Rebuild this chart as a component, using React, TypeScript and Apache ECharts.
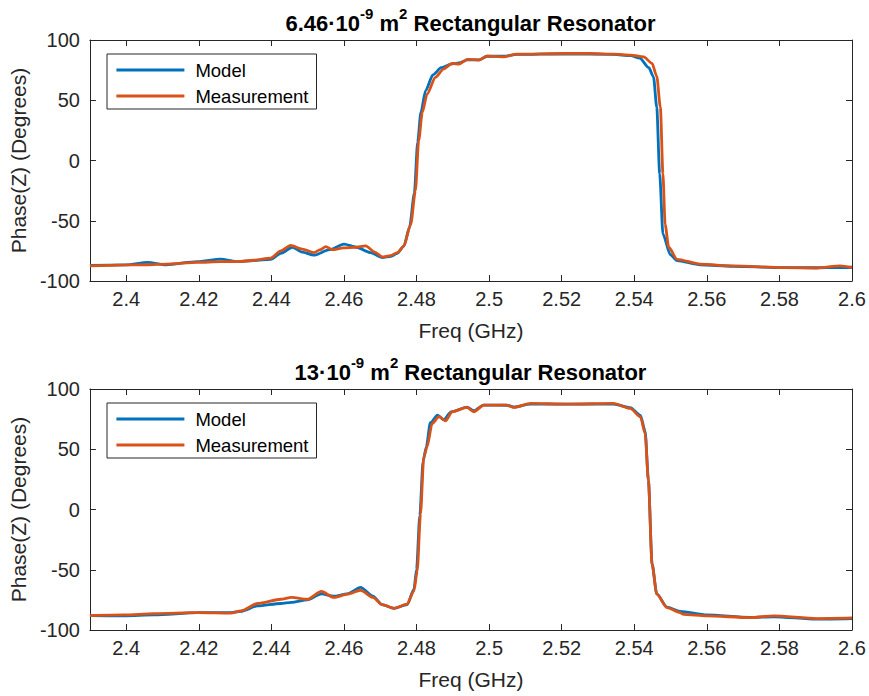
import React, { useEffect, useRef } from "react";
import * as echarts from "echarts";

// ---------- data ----------
const xTicks = [2.4, 2.42, 2.44, 2.46, 2.48, 2.5, 2.52, 2.54, 2.56, 2.58, 2.6];
const seriesNames = ["Model", "Measurement"];
const titles = [
  ["6.46·10", "-9", " m", "2", " Rectangular Resonator"],
  ["13·10", "-9", " m", "2", " Rectangular Resonator"],
];

const topModelFreq = [2.39, 2.4, 2.4059, 2.411, 2.4196, 2.426, 2.4306, 2.4351, 2.4398, 2.4426, 2.4458, 2.4485, 2.4517, 2.456, 2.46, 2.4635, 2.4673, 2.4706, 2.473, 2.4747, 2.4765, 2.4781, 2.4794, 2.4803, 2.4812, 2.4825, 2.4845, 2.4868, 2.4895, 2.4917, 2.494, 2.4972, 2.4994, 2.504, 2.5077, 2.5206, 2.5343, 2.539, 2.5415, 2.544, 2.5453, 2.5462, 2.547, 2.5479, 2.5499, 2.5518, 2.5582, 2.5673, 2.5811, 2.5903, 2.5967, 2.6];
const topModelPhase = [-87, -86.7, -84.5, -86.5, -84, -81.8, -84, -83, -82, -77, -72, -76, -78.6, -74, -69.4, -72, -76.4, -80.6, -79.5, -77, -71, -55, -27, 15, 40, 58, 71, 77, 80, 81, 83.5, 83.5, 86.5, 86.5, 88, 88.5, 88, 87, 85, 77, 69.4, 44, -11, -61, -78, -83, -86.5, -87.8, -88.9, -89, -88.9, -88.6];

const topMeasFreq = [2.39, 2.395, 2.4, 2.406, 2.411, 2.4196, 2.426, 2.4306, 2.4351, 2.4398, 2.4426, 2.4453, 2.4485, 2.4517, 2.4535, 2.455, 2.4568, 2.4599, 2.463, 2.466, 2.4685, 2.4706, 2.4728, 2.4747, 2.4765, 2.4784, 2.4797, 2.4806, 2.4816, 2.4829, 2.4852, 2.4875, 2.4898, 2.4917, 2.494, 2.4972, 2.4994, 2.504, 2.5077, 2.5206, 2.528, 2.5343, 2.539, 2.5426, 2.5449, 2.5462, 2.5472, 2.5479, 2.5485, 2.5495, 2.5518, 2.5582, 2.5673, 2.5811, 2.5903, 2.5967, 2.6];
const topMeasPhase = [-87.5, -87, -86.7, -86.5, -86, -84.5, -84, -84, -82.8, -81, -75, -70.5, -73.5, -76.4, -74, -71.4, -74, -72.5, -72, -70.8, -76, -80, -79, -76.4, -71, -53, -25, 16.7, 40, 55, 69, 76, 80.6, 80, 84, 83.3, 86.7, 86, 88.3, 88.8, 88.8, 88.3, 87.5, 86, 80.6, 70, 44, -11, -53, -72, -82, -86, -87.5, -88.9, -89.2, -87.5, -88.8];

const botModelFreq = [2.39, 2.3994, 2.4077, 2.4196, 2.4288, 2.4316, 2.4362, 2.4426, 2.4455, 2.4499, 2.4538, 2.4572, 2.4609, 2.4646, 2.468, 2.4705, 2.4738, 2.4774, 2.4793, 2.48, 2.4809, 2.4818, 2.4827, 2.4838, 2.4858, 2.4875, 2.4895, 2.4939, 2.4958, 2.4985, 2.5049, 2.5068, 2.5114, 2.5215, 2.5343, 2.5389, 2.5417, 2.543, 2.5439, 2.5449, 2.5462, 2.549, 2.5526, 2.56, 2.5719, 2.5784, 2.5903, 2.6];
const botModelPhase = [-88, -88.3, -87.5, -85.6, -85.5, -84.5, -80, -78, -77, -75, -70, -72, -70, -64.7, -72, -79, -82, -79, -66, -50, -5, 40, 52, 72, 78.3, 74.5, 81, 85, 82, 86.7, 86.5, 85, 87.5, 87.5, 87.5, 84.5, 78, 65, 24, -45, -70, -81, -84.5, -87.5, -89.5, -89, -91, -90.5];

const botMeasFreq = [2.39, 2.3994, 2.4077, 2.4196, 2.4288, 2.4316, 2.4362, 2.4426, 2.4455, 2.4499, 2.4538, 2.4572, 2.4609, 2.4646, 2.468, 2.4705, 2.4738, 2.4774, 2.4793, 2.4802, 2.4811, 2.482, 2.4829, 2.4843, 2.4862, 2.488, 2.4898, 2.4939, 2.4958, 2.4985, 2.5049, 2.5068, 2.5114, 2.5215, 2.5343, 2.5389, 2.5417, 2.543, 2.5439, 2.5449, 2.5462, 2.549, 2.5526, 2.5536, 2.56, 2.5719, 2.5784, 2.5903, 2.6];
const botMeasPhase = [-88, -87.5, -86.4, -85.6, -86, -84.2, -78, -74.5, -73, -74.5, -68, -73, -70.3, -67, -73, -79, -82, -78.6, -67.5, -50.8, -3.6, 43.6, 51.9, 71.4, 77, 73.6, 81.1, 84.7, 81.1, 86.7, 86.7, 84.7, 88, 87.5, 88, 83.9, 76.9, 63, 24, -45.3, -70.3, -81.4, -85.6, -87, -88.3, -89.7, -88.3, -90.5, -90];

// ---------- styling ----------
const FONT = "'Liberation Sans', Arial, Helvetica, sans-serif";
const AX = "#262626";
const BLUE = "#0072BD";
const ORANGE = "#D95319";
const LW = 2.8;

const zip = (xs: number[], ys: number[]) => xs.map((x, i) => [x, ys[i]]);

const fmtX = (v: number) => String(parseFloat(v.toFixed(2)));

export default function App() {
  const ref = useRef<HTMLDivElement>(null);

  useEffect(() => {
    if (!ref.current) return;
    const chart = echarts.init(ref.current, undefined, { renderer: "svg" });

    const gridTops = [40, 389];
    const gridH = 241;
    const gridLeft = 89;
    const gridW = 763;

    const xAxes: any[] = [];
    const yAxes: any[] = [];
    gridTops.forEach((_, g) => {
      xAxes.push({
        type: "value",
        gridIndex: g,
        position: "bottom",
        min: 2.39,
        max: 2.6,
        axisLine: { show: true, onZero: false, lineStyle: { color: AX, width: 1 } },
        axisTick: { show: true, inside: true, length: 6, customValues: xTicks, lineStyle: { color: AX } },
        axisLabel: {
          show: true,
          customValues: xTicks,
          formatter: (v: number) => fmtX(v),
          color: AX,
          fontSize: 20,
          fontFamily: FONT,
          margin: 8,
        },
        splitLine: { show: false },
        name: "Freq (GHz)",
        nameLocation: "middle",
        nameGap: 39,
        nameTextStyle: { color: AX, fontSize: 21, fontFamily: FONT },
      });
      xAxes.push({
        type: "value",
        gridIndex: g,
        position: "top",
        min: 2.39,
        max: 2.6,
        axisLine: { show: true, onZero: false, lineStyle: { color: AX, width: 1 } },
        axisTick: { show: true, inside: true, length: 6, customValues: xTicks, lineStyle: { color: AX } },
        axisLabel: { show: false },
        splitLine: { show: false },
      });
      yAxes.push({
        type: "value",
        gridIndex: g,
        position: "left",
        min: -100,
        max: 100,
        interval: 50,
        axisLine: { show: true, onZero: false, lineStyle: { color: AX, width: 1 } },
        axisTick: { show: true, inside: true, length: 6, lineStyle: { color: AX } },
        axisLabel: { color: AX, fontSize: 20, fontFamily: FONT, margin: 10 },
        splitLine: { show: false },
        name: "Phase(Z) (Degrees)",
        nameLocation: "middle",
        nameGap: 56,
        nameTextStyle: { color: AX, fontSize: 21, fontFamily: FONT },
      });
      yAxes.push({
        type: "value",
        gridIndex: g,
        position: "right",
        min: -100,
        max: 100,
        interval: 50,
        axisLine: { show: true, onZero: false, lineStyle: { color: AX, width: 1 } },
        axisTick: { show: true, inside: true, length: 6, lineStyle: { color: AX } },
        axisLabel: { show: false },
        splitLine: { show: false },
      });
    });

    const mkSeries = (name: string, color: string, data: number[][], g: number) => ({
      type: "line",
      name,
      data,
      xAxisIndex: g * 2,
      yAxisIndex: g * 2,
      showSymbol: false,
      symbol: "none",
      smooth: 0.25,
      smoothMonotone: "x",
      lineStyle: { color, width: LW },
      itemStyle: { color },
      z: name === "Model" ? 2 : 3,
    });

    const legendBase = (top: number) => ({
      left: 107,
      top,
      orient: "vertical",
      data: seriesNames,
      backgroundColor: "#ffffff",
      borderColor: AX,
      borderWidth: 1,
      borderRadius: 0,
      padding: [6, 8, 3, 8],
      itemWidth: 68,
      itemHeight: 20,
      itemGap: 6,
      selectedMode: false,
      itemStyle: { opacity: 0 },
      lineStyle: { width: LW },
      textStyle: { color: "#000000", fontSize: 18.5, fontFamily: FONT, lineHeight: 20, padding: [0, 0, 0, 6] },
    });

    const titleGraphic = (t: string[], y: number) => ({
      type: "text",
      x: gridLeft + gridW / 2,
      y,
      style: {
        text: `{a|${t[0]}}{s|${t[1]}}{a|${t[2]}}{s|${t[3]}}{a|${t[4]}}`,
        align: "center",
        verticalAlign: "top",
        rich: {
          a: { fontSize: 22, fontWeight: "bold", fontFamily: FONT, fill: "#000", lineHeight: 28, verticalAlign: "bottom" },
          s: { fontSize: 15, fontWeight: "bold", fontFamily: FONT, fill: "#000", lineHeight: 15, verticalAlign: "top" },
        },
      },
    });

    chart.setOption({
      animation: false,
      backgroundColor: "#ffffff",
      grid: gridTops.map((top) => ({ left: gridLeft, top, width: gridW, height: gridH, containLabel: false })),
      xAxis: xAxes,
      yAxis: yAxes,
      legend: [legendBase(54), legendBase(403)],
      series: [
        mkSeries("Model", BLUE, zip(topModelFreq, topModelPhase), 0),
        mkSeries("Measurement", ORANGE, zip(topMeasFreq, topMeasPhase), 0),
        mkSeries("Model", BLUE, zip(botModelFreq, botModelPhase), 1),
        mkSeries("Measurement", ORANGE, zip(botMeasFreq, botMeasPhase), 1),
      ],
      graphic: [titleGraphic(titles[0], 6), titleGraphic(titles[1], 355)],
    });

    return () => chart.dispose();
  }, []);

  return (
    <div
      ref={ref}
      style={{ position: "absolute", left: 0, top: 0, width: 869, height: 696, background: "#fff" }}
    />
  );
}
